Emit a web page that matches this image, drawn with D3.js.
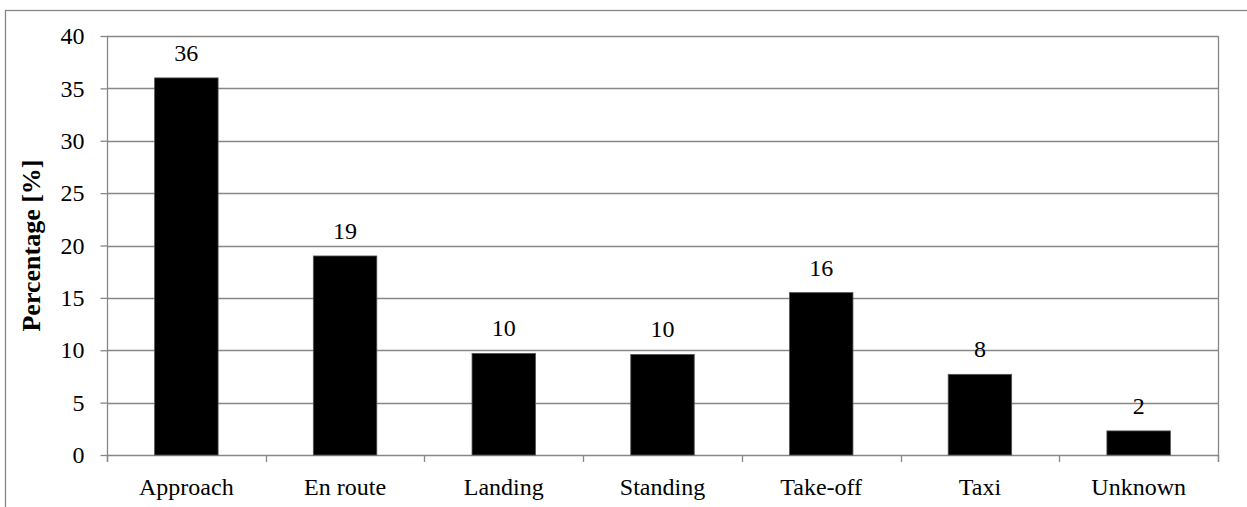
<!DOCTYPE html>
<html lang="en">
<head>
    <meta charset="UTF-8">
    <title>Percentage by phase</title>
    <script src="https://d3js.org/d3.v7.min.js"></script>
    <style>
        body { margin: 0; background: #fff; }
    </style>
</head>
<body>
    <script>
        var categories = ["Approach", "En route", "Landing", "Standing", "Take-off", "Taxi", "Unknown"];
        var values = [36, 19, 9.7, 9.6, 15.5, 7.7, 2.3];
        var yTicks = [0, 5, 10, 15, 20, 25, 30, 35, 40];

        var width = 1247;
        var height = 507;
        var plotLeft = 107, plotRight = 1218, plotTop = 36, plotBottom = 455;
        var grey = "#878787";
        var serif = "'Liberation Serif', 'Times New Roman', serif";

        var svg = d3.select("body")
            .append("svg")
            .attr("width", width)
            .attr("height", height);

        // outer chart border (cut off at right and bottom)
        svg.append("rect")
            .attr("x", 5.5).attr("y", 10.5)
            .attr("width", 1400).attr("height", 700)
            .attr("fill", "none")
            .attr("stroke", grey)
            .attr("stroke-width", 1.3);

        var x = d3.scaleBand()
            .domain(categories)
            .range([plotLeft, plotRight])
            .paddingInner(0.6)
            .paddingOuter(0.3);

        var y = d3.scaleLinear()
            .domain([0, 40])
            .range([plotBottom, plotTop]);

        // gridlines
        svg.append("g")
            .selectAll("line")
            .data(yTicks)
            .enter()
            .append("line")
            .attr("x1", plotLeft).attr("x2", plotRight)
            .attr("y1", d => Math.round(y(d)) + 0.5)
            .attr("y2", d => Math.round(y(d)) + 0.5)
            .attr("stroke", grey)
            .attr("stroke-width", 1.3);

        // right border of plot
        svg.append("line")
            .attr("x1", plotRight + 0.5).attr("x2", plotRight + 0.5)
            .attr("y1", plotTop).attr("y2", plotBottom + 7)
            .attr("stroke", grey)
            .attr("stroke-width", 1.3);

        // y axis
        var yAxis = svg.append("g")
            .attr("transform", "translate(" + (plotLeft + 0.5) + ",0)")
            .call(d3.axisLeft(y).tickValues(yTicks).tickSize(7).tickPadding(16));
        yAxis.select(".domain").attr("d", "M0," + plotTop + "V" + (plotBottom + 7)).attr("stroke", grey).attr("stroke-width", 1.3);
        yAxis.selectAll(".tick line").attr("stroke", grey).attr("stroke-width", 1.3);
        yAxis.selectAll(".tick text")
            .style("font-family", serif)
            .style("font-size", "24px")
            .attr("fill", "#000");

        // x axis ticks at category boundaries
        var bounds = d3.range(categories.length + 1).map(i => plotLeft + i * (plotRight - plotLeft) / categories.length);
        svg.append("g")
            .selectAll("line")
            .data(bounds)
            .enter()
            .append("line")
            .attr("x1", d => Math.round(d) + 0.5).attr("x2", d => Math.round(d) + 0.5)
            .attr("y1", plotBottom).attr("y2", plotBottom + 7)
            .attr("stroke", grey)
            .attr("stroke-width", 1.3);

        svg.append("g")
            .selectAll("text")
            .data(categories)
            .enter()
            .append("text")
            .attr("x", d => x(d) + x.bandwidth() / 2)
            .attr("y", 495)
            .attr("text-anchor", "middle")
            .style("font-family", serif)
            .style("font-size", "24px")
            .text(d => d);

        // bars
        svg.append("g")
            .selectAll("rect")
            .data(values)
            .enter()
            .append("rect")
            .attr("x", (d, i) => x(categories[i]))
            .attr("width", x.bandwidth())
            .attr("y", d => y(d))
            .attr("height", d => y(0) - y(d))
            .attr("fill", "#000")
            .attr("stroke", "#555")
            .attr("stroke-width", 0.8);

        // value labels
        svg.append("g")
            .selectAll("text")
            .data(values)
            .enter()
            .append("text")
            .attr("x", (d, i) => x(categories[i]) + x.bandwidth() / 2)
            .attr("y", d => y(d) - 17)
            .attr("text-anchor", "middle")
            .style("font-family", serif)
            .style("font-size", "24px")
            .text(d => d3.format(".0f")(d));

        // y axis title
        svg.append("text")
            .attr("transform", "translate(40," + ((plotTop + plotBottom) / 2) + ") rotate(-90)")
            .attr("text-anchor", "middle")
            .style("font-family", serif)
            .style("font-size", "26px")
            .style("font-weight", "bold")
            .text("Percentage [%]");
    </script>
</body>
</html>
